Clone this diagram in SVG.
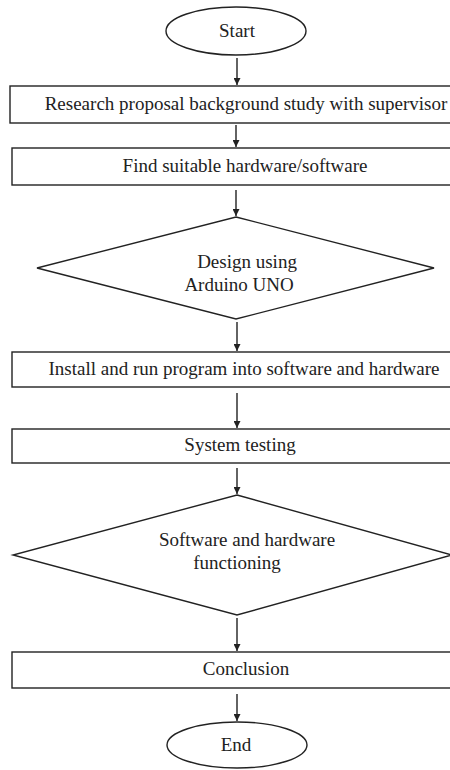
<svg xmlns="http://www.w3.org/2000/svg" width="450" height="770" viewBox="0 0 450 770">
<style>
.s{fill:#fff;stroke:#222;stroke-width:1.4}
.t{font-family:"Liberation Serif","Times New Roman",serif;font-size:19px;fill:#222;text-anchor:middle}
.c{stroke:#222;stroke-width:1.4;fill:none;marker-end:url(#ah)}
</style>
<defs>
<marker id="ah" viewBox="0 0 10 10" refX="10" refY="5" markerWidth="7" markerHeight="7" markerUnits="userSpaceOnUse" orient="auto">
<path d="M0,0 L10,5 L0,10 z" fill="#222"/>
</marker>
</defs>
<rect width="450" height="770" fill="#fff"/>
<g id="connectors">
<line class="c" x1="237" y1="58" x2="237" y2="85"/>
<line class="c" x1="236" y1="125" x2="236" y2="147"/>
<line class="c" x1="236" y1="190" x2="236" y2="216"/>
<line class="c" x1="237" y1="322" x2="237" y2="351"/>
<line class="c" x1="237" y1="393" x2="237" y2="428"/>
<line class="c" x1="237" y1="468" x2="237" y2="494"/>
<line class="c" x1="237" y1="618" x2="237" y2="651"/>
<line class="c" x1="237" y1="694" x2="237" y2="721"/>
</g>
<g id="start">
<ellipse class="s" cx="236" cy="31" rx="70" ry="24"/>
<text class="t" x="237" y="37">Start</text>
</g>
<g id="research">
<rect class="s" x="10" y="86" width="450" height="37"/>
<text class="t" x="246" y="110">Research proposal background study with supervisor</text>
</g>
<g id="find">
<rect class="s" x="12" y="148" width="450" height="37"/>
<text class="t" x="245" y="172">Find suitable hardware/software</text>
</g>
<g id="design">
<polygon class="s" points="236,217 434,268 236,319 37,268"/>
<text class="t" x="247" y="268">Design using</text>
<text class="t" x="239" y="291">Arduino UNO</text>
</g>
<g id="install">
<rect class="s" x="12" y="352" width="450" height="35"/>
<text class="t" x="244" y="375">Install and run program into software and hardware</text>
</g>
<g id="testing">
<rect class="s" x="12" y="429" width="450" height="34"/>
<text class="t" x="240" y="451">System testing</text>
</g>
<g id="functioning">
<polygon class="s" points="237,495 452,555 237,615 13,555"/>
<text class="t" x="247" y="546">Software and hardware</text>
<text class="t" x="237" y="569">functioning</text>
</g>
<g id="conclusion">
<rect class="s" x="12" y="652" width="450" height="36"/>
<text class="t" x="246" y="675">Conclusion</text>
</g>
<g id="end">
<ellipse class="s" cx="237" cy="745" rx="70" ry="23"/>
<text class="t" x="236" y="751">End</text>
</g>
</svg>
